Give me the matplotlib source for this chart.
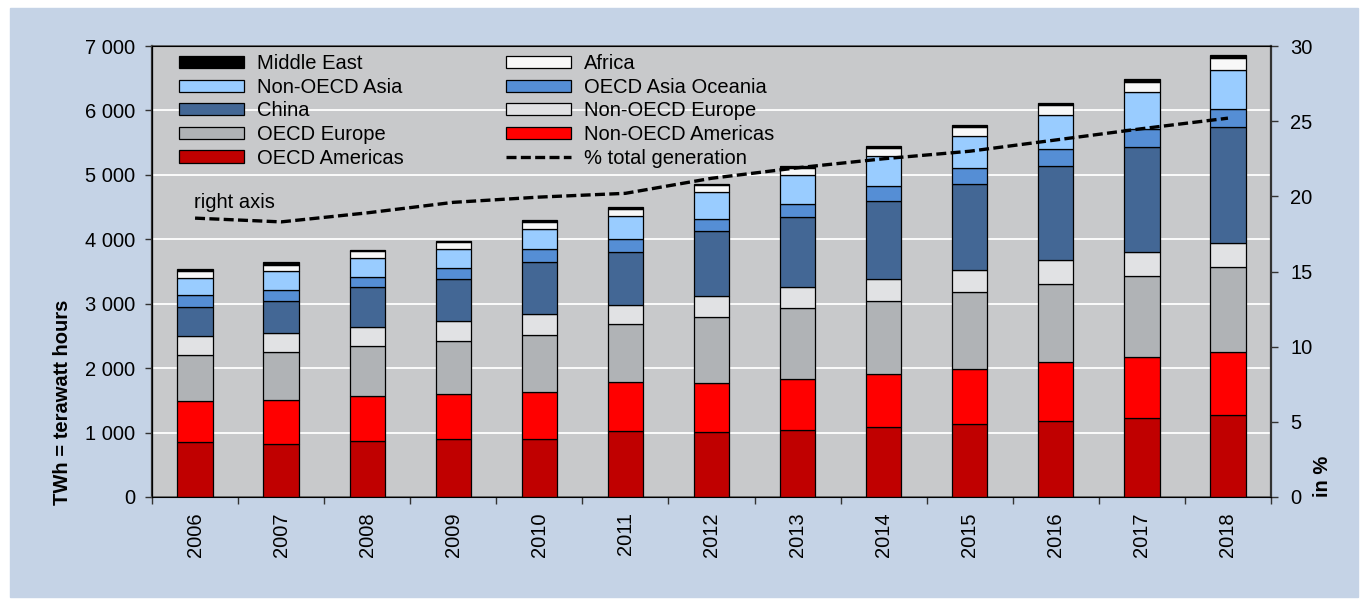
import matplotlib.pyplot as plt
import numpy as np
from matplotlib.patches import Rectangle
from matplotlib.ticker import FuncFormatter, FixedLocator

plt.rcParams['font.family'] = ['Liberation Sans', 'DejaVu Sans']

years = ['2006', '2007', '2008', '2009', '2010', '2011', '2012',
         '2013', '2014', '2015', '2016', '2017', '2018']

# TWh by region (stack order bottom -> top)
oecd_americas = [855, 827, 874, 900, 897, 1018, 1003, 1045, 1086, 1133, 1184, 1226, 1267]
non_oecd_americas = [640, 678, 687, 703, 727, 762, 766, 791, 823, 858, 906, 941, 983]
oecd_europe = [703, 745, 787, 812, 895, 905, 1025, 1092, 1138, 1185, 1221, 1268, 1314]
non_oecd_europe = [301, 295, 290, 311, 326, 295, 320, 331, 341, 352, 362, 372, 378]
china = [450, 497, 615, 657, 796, 817, 1014, 1081, 1200, 1330, 1469, 1625, 1795]
oecd_asia_oceania = [180, 165, 166, 171, 208, 207, 192, 212, 233, 243, 259, 279, 290]
non_oecd_asia = [270, 294, 290, 295, 306, 351, 408, 440, 466, 502, 528, 574, 605]
africa = [102, 105, 103, 103, 113, 115, 109, 114, 124, 139, 155, 156, 181]
middle_east = [38, 35, 20, 20, 32, 31, 26, 26, 31, 26, 31, 41, 47]

# % of total generation (right axis)
pct_total = [18.55, 18.3, 18.9, 19.6, 19.95, 20.2, 21.2, 21.9, 22.5, 23.0, 23.75, 24.5, 25.2]

series = [
    ("OECD Americas", oecd_americas, "#c00000"),
    ("Non-OECD Americas", non_oecd_americas, "#ff0000"),
    ("OECD Europe", oecd_europe, "#b0b3b6"),
    ("Non-OECD Europe", non_oecd_europe, "#e1e2e4"),
    ("China", china, "#436795"),
    ("OECD Asia Oceania", oecd_asia_oceania, "#558ed5"),
    ("Non-OECD Asia", non_oecd_asia, "#99ccff"),
    ("Africa", africa, "#f8f8f8"),
    ("Middle East", middle_east, "#000000"),
]

fig = plt.figure(figsize=(13.61, 6.0), dpi=100)
fig.patches.append(Rectangle((10/1361, 3/600), 1348/1361, 589/600,
                             transform=fig.transFigure, color="#c5d3e6", zorder=-10))

ax = fig.add_axes([152/1361, 103/600, 1119/1361, 451/600])
ax.set_facecolor("#c8c9cb")

x = np.arange(len(years))
bottom = np.zeros(len(years))
handles = {}
for name, vals, col in series:
    b = ax.bar(x, vals, 0.41, bottom=bottom, color=col, edgecolor="black",
               linewidth=0.9, label=name, zorder=3)
    handles[name] = b
    bottom += np.array(vals)

ax.set_xlim(-0.5, 12.5)
ax.set_ylim(0, 7000)
ax.set_yticks(range(0, 7001, 1000))
ax.yaxis.set_major_formatter(FuncFormatter(lambda v, p: f"{int(v):,}".replace(",", " ")))
ax.yaxis.grid(True, color="white", linewidth=1.3)
ax.set_axisbelow(True)
ax.set_xticks(x)
ax.set_xticklabels(years, rotation=90)
ax.xaxis.set_minor_locator(FixedLocator(np.arange(-0.5, 13, 1)))
ax.tick_params(axis="x", which="major", length=0, pad=11, labelsize=14.5)
ax.tick_params(axis="x", which="minor", length=5, width=1, color="#333333")
ax.tick_params(axis="y", length=5, width=1, pad=7, labelsize=14.5, color="#333333")
for s in ax.spines.values():
    s.set_color("#555555")
    s.set_linewidth(1.2)
ax.spines["left"].set_color("#333333")
ax.spines["left"].set_linewidth(1.6)

ax2 = ax.twinx()
ax2.set_ylim(0, 30)
ax2.set_yticks(range(0, 31, 5))
ax2.tick_params(axis="y", length=5, width=1, pad=9, labelsize=14.5, color="#333333")
ax2.spines["right"].set_color("#333333")
ax2.spines["right"].set_linewidth(1.6)
line, = ax2.plot(x, pct_total, color="black", linewidth=2.4,
                 linestyle=(0, (3.0, 1.3)), label="% total generation", zorder=4)

ax2.text(0.0375, 0.652, "right axis", transform=ax.transAxes, fontsize=14.5,
         ha="left", va="center")

order = ["Middle East", "Non-OECD Asia", "China", "OECD Europe", "OECD Americas",
         "Africa", "OECD Asia Oceania", "Non-OECD Europe", "Non-OECD Americas"]
leg_h = [handles[n] for n in order] + [line]
leg_l = order + ["% total generation"]
leg = ax2.legend(leg_h, leg_l, ncol=2, loc="upper left",
                 bbox_to_anchor=(0.0245, 0.982), frameon=False, fontsize=14.5,
                 handlelength=3.2, handleheight=0.55, handletextpad=0.65,
                 labelspacing=0.23, columnspacing=5.1, borderpad=0, borderaxespad=0)

fig.text(62/1361, 1 - 402/600, "TWh = terawatt hours", rotation=90,
         fontweight="bold", fontsize=14.5, ha="center", va="center")
fig.text(1322/1361, 1 - 476/600, "in %", rotation=90,
         fontweight="bold", fontsize=14.5, ha="center", va="center")

fig.savefig("out.png", dpi=100)
